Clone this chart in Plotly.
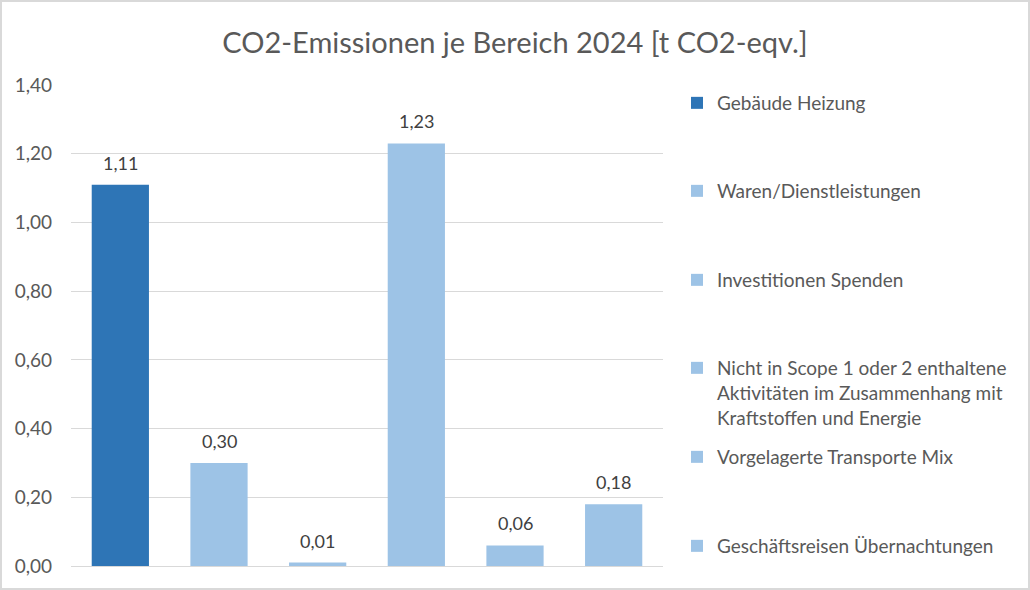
import plotly.graph_objects as go

categories = [
    "Gebäude Heizung",
    "Waren/Dienstleistungen",
    "Investitionen Spenden",
    "Nicht in Scope 1 oder 2 enthaltene<br>Aktivitäten im Zusammenhang mit<br>Kraftstoffen und Energie",
    "Vorgelagerte Transporte Mix",
    "Geschäftsreisen Übernachtungen",
]
values = [1.11, 0.30, 0.01, 1.23, 0.06, 0.18]
colors = ["#2E75B6", "#9DC3E6", "#9DC3E6", "#9DC3E6", "#9DC3E6", "#9DC3E6"]
y_ticks = [0.0, 0.2, 0.4, 0.6, 0.8, 1.0, 1.2, 1.4]
title = "CO2-Emissionen je Bereich 2024 [t CO2-eqv.]"

W, H = 1030, 590
L, R, T, B = 71, 367, 85, 24
FONT = "Lato"

# legend item vertical positions (pixels from top)
legend_py = [103, 191, 280, 363, 457, 546]

fig = go.Figure()
for i, (cat, val, col) in enumerate(zip(categories, values, colors)):
    lname = "legend" if i == 0 else f"legend{i+1}"
    fig.add_trace(go.Bar(
        x=[i], y=[val], name=cat,
        marker=dict(color=col, line=dict(width=0)),
        width=0.58,
        legend=lname,
        showlegend=True,
        hoverinfo="skip",
    ))
    fig.add_annotation(
        x=i, y=val, xref="x", yref="y",
        text=f"{val:.2f}".replace(".", ","),
        showarrow=False, yanchor="bottom", yshift=9,
        font=dict(family=FONT, size=18, color="#404040"),
    )

plot_h = H - T - B
plot_w = W - L - R
layout_legends = {}
for i, py in enumerate(legend_py):
    lname = "legend" if i == 0 else f"legend{i+1}"
    yanchor = "top" if i == 3 else "middle"
    ypx = py - 14 if i == 3 else py
    layout_legends[lname] = dict(
        x=(677 - L) / plot_w, xanchor="left",
        y=(H - B - ypx) / plot_h, yanchor=yanchor,
        font=dict(family=FONT, size=19, color="#595959"),
        bgcolor="rgba(0,0,0,0)", borderwidth=0,
        valign="top", itemclick=False, itemdoubleclick=False,
        tracegroupgap=0,
    )

fig.update_layout(
    width=W, height=H,
    margin=dict(l=L, r=R, t=T, b=B, pad=0),
    paper_bgcolor="white", plot_bgcolor="white",
    separators=",.",
    barmode="overlay",
    font=dict(family=FONT, color="#595959"),
    title=dict(text=title, x=0.5, xanchor="center", y=1 - 43 / H, yanchor="middle",
               font=dict(family=FONT, size=29, color="#595959")),
    xaxis=dict(range=[-0.5, 5.5], showticklabels=False, showgrid=False, zeroline=False,
               showline=False, ticks=""),
    yaxis=dict(range=[0, 1.4], tickvals=y_ticks, tickformat=".2f",
               showgrid=True, gridcolor="#D9D9D9", gridwidth=1,
               zeroline=True, zerolinecolor="#D9D9D9", zerolinewidth=1,
               showline=False, ticks="", ticklabelstandoff=18,
               tickfont=dict(family=FONT, size=19, color="#595959")),
    **layout_legends,
)

# outer chart border
fig.add_shape(type="rect", xref="paper", yref="paper",
              x0=(1 - L) / plot_w, x1=(W - 1 - L) / plot_w,
              y0=-(B - 1) / plot_h, y1=1 + (T - 1) / plot_h,
              line=dict(color="#D9D9D9", width=2), fillcolor="rgba(0,0,0,0)", layer="below")

fig.write_html("out.html", config={"displayModeBar": False},
               post_script="document.body.style.margin='0';")
